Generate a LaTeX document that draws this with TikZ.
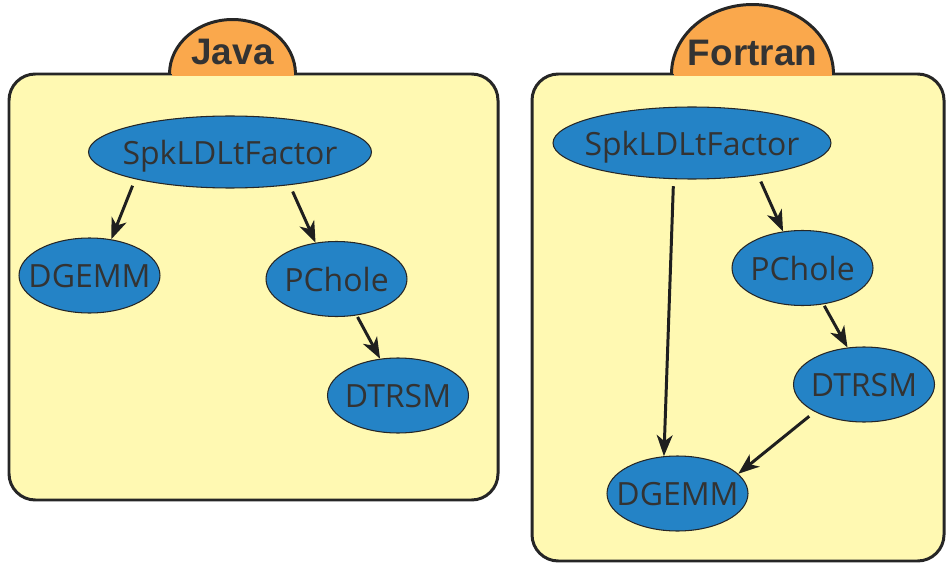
\documentclass[tikz,border=0pt]{standalone}
\usepackage{fontspec}
\setmainfont{Open Sans}
\newfontfamily\tabfont{Liberation Sans}
\usepackage{tikz}
\usetikzlibrary{arrows.meta, shapes.geometric}

\definecolor{panelfill}{RGB}{255,249,178}
\definecolor{tabfill}{RGB}{250,168,76}
\definecolor{nodefill}{RGB}{36,131,198}
\definecolor{inkgray}{RGB}{51,51,51}

\begin{document}
\begin{tikzpicture}[
    x=0.02cm, y=-0.02cm,
    panel/.style ={fill=panelfill, draw=black!85, line width=1.7pt, rounded corners=15pt},
    tab/.style   ={fill=tabfill, draw=black!85, line width=1.7pt},
    tablbl/.style={font=\tabfont\bfseries\fontsize{21}{21}\selectfont, text=inkgray, anchor=base},
    fn/.style    ={ellipse, fill=nodefill, draw=black!85, line width=0.6pt,
                   inner xsep=-9pt, inner ysep=0pt, minimum width=2.82cm, minimum height=1.5cm,
                   text depth=0pt, font=\fontsize{18.2}{18.2}\selectfont, text=inkgray},
    wide/.style  ={minimum width=5.66cm, minimum height=1.44cm},
    call/.style  ={-{Stealth[length=12pt, width=9pt, inset=3.5pt]}, line width=1.7pt,
                   draw=black!88, shorten <=4pt}
  ]
  \useasboundingbox (0,0) rectangle (946,564);

  %% ---- panels and tabs ---------------------------------------------
  \draw[panel] (9,74) rectangle (498,500);
  \draw[panel] (532,74) rectangle (944,561);

  \filldraw[tab] (169.5,74) arc[start angle=180, end angle=0, x radius=1.26cm, y radius=1.09cm];
  \fill[tabfill] (171.5,72) rectangle (293.5,76);
  \filldraw[tab] (671.5,74) arc[start angle=180, end angle=0, x radius=1.62cm, y radius=1.39cm];
  \fill[tabfill] (673.5,72) rectangle (831.5,76);

  \node[tablbl] (javaLbl)    at (232.5,65) {Java};
  \node[tablbl] (fortranLbl) at (752.5,66) {Fortran};

  %% ---- Java call tree ----------------------------------------------
  \node[fn, wide] (spkL)    at (230,152)    {SpkLDLtFactor};
  \node[fn]       (dgemmL)  at (89.5,275.5) {DGEMM};
  \node[fn]       (pcholeL) at (336.5,279)  {PChole};
  \node[fn]       (dtrsmL)  at (398,395.5)  {DTRSM};

  \draw[call] (spkL.196) -- (dgemmL.59);
  \draw[call] (spkL.-29) -- (pcholeL.120);
  \draw[call, shorten <=1pt] (pcholeL.-61) -- (dtrsmL.116);

  %% ---- Fortran call tree -------------------------------------------
  \node[fn, wide, minimum width=5.56cm] (spkR) at (692,143) {SpkLDLtFactor};
  \node[fn]       (pcholeR) at (802.5,268)  {PChole};
  \node[fn]       (dtrsmR)  at (864,384.5)  {DTRSM};
  \node[fn]       (dgemmR)  at (677.5,493.5) {DGEMM};

  \draw[call] (spkR.-117) -- (dgemmR.110);
  \draw[call] (spkR.-26) -- (pcholeR.118);
  \draw[call, shorten <=1pt] (pcholeR.-60) -- (dtrsmR.114);
  \draw[call] (dtrsmR.209) -- (dgemmR.18);

\end{tikzpicture}
\end{document}
